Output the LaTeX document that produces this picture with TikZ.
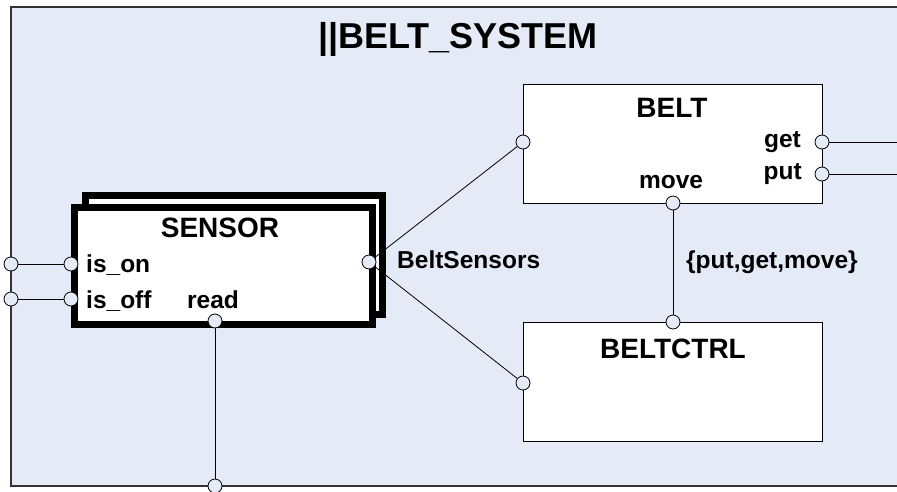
\documentclass[tikz,border=0pt]{standalone}
\usepackage{fontspec}
\setmainfont{Liberation Sans}
\definecolor{bgfill}{HTML}{E4EBF6}
\definecolor{framecol}{HTML}{333333}
\begin{document}
\begin{tikzpicture}[x=1pt,y=-1pt,
  port/.style={circle, draw, fill=bgfill, inner sep=0pt, minimum size=14pt, line width=0.8pt},
  box/.style={draw, fill=white, rectangle, inner sep=0pt, anchor=north west, line width=1pt},
  thickbox/.style={box, line width=6.5pt},
  boxtitle/.style={font=\fontsize{28}{28}\selectfont\bfseries, anchor=base, inner sep=0pt},
  lbl/.style={font=\fontsize{24.5}{24.5}\selectfont\bfseries, inner sep=0pt},
  conn/.style={line width=0.8pt}]
\useasboundingbox (0,0) rectangle (897,491);
% frame
\coordinate (ftl) at (11,7);
\coordinate (ftr) at (897,7);
\coordinate (fbl) at (11,486);
\coordinate (fbr) at (897,486);
\fill[bgfill] (ftl) rectangle (fbr);
\draw[framecol, line width=1.5pt] (ftr) -- (ftl) -- (fbl) -- (fbr);
\node[font=\fontsize{36}{36}\selectfont\bfseries, anchor=base, inner sep=0pt] (title) at (458,48) {||BELT\_SYSTEM};
% boxes
\node[thickbox, minimum width=297pt, minimum height=119pt] (sback) at (82,192) {};
\node[thickbox, minimum width=298pt, minimum height=117pt] (sensor) at (71,204) {};
\node[box, minimum width=299pt, minimum height=119pt] (belt) at (523,84) {};
\node[box, minimum width=299pt, minimum height=119pt] (ctrl) at (523,322) {};
% titles
\node[boxtitle] (tsensor) at (220,237) {SENSOR};
\node[boxtitle] (tbelt) at (672,117) {BELT};
\node[boxtitle] (tctrl) at (673,358) {BELTCTRL};
% ports
\node[port] (son) at (71,264) {};
\node[port] (soff) at (71,299) {};
\node[port] (sread) at (215,321) {};
\node[port] (sbs) at (369,262) {};
\node[port] (fon) at (11,264) {};
\node[port] (foff) at (11,299) {};
\node[port] (fread) at (215,486) {};
\node[port] (bl) at (523,142) {};
\node[port] (bget) at (822,142) {};
\node[port] (bput) at (822,174) {};
\node[port] (bmove) at (673,203) {};
\node[port] (cl) at (523,383) {};
\node[port] (ctop) at (673,322) {};
\coordinate (eget) at (897,142);
\coordinate (eput) at (897,174);
% labels
\node[lbl, anchor=base west] (lon) at (86,272) {is\_on};
\node[lbl, anchor=base west] (loff) at (86,308) {is\_off};
\node[lbl, anchor=base] (lread) at (213,308) {read};
\node[lbl, anchor=base west] (lbs) at (397,268) {BeltSensors};
\node[lbl, anchor=base] (lmove) at (671,188) {move};
\node[lbl, anchor=base east] (lget) at (801,147) {get};
\node[lbl, anchor=base east] (lput) at (802,179) {put};
\node[lbl, anchor=base west] (lset) at (686,268) {\{put,get,move\}};
% connectors
\draw[conn] (fon) -- (son);
\draw[conn] (foff) -- (soff);
\draw[conn] (sread) -- (fread);
\draw[conn] (sbs) -- (bl);
\draw[conn] (sbs) -- (cl);
\draw[conn] (bmove) -- (ctop);
\draw[conn] (bget) -- (eget);
\draw[conn] (bput) -- (eput);
\end{tikzpicture}
\end{document}
